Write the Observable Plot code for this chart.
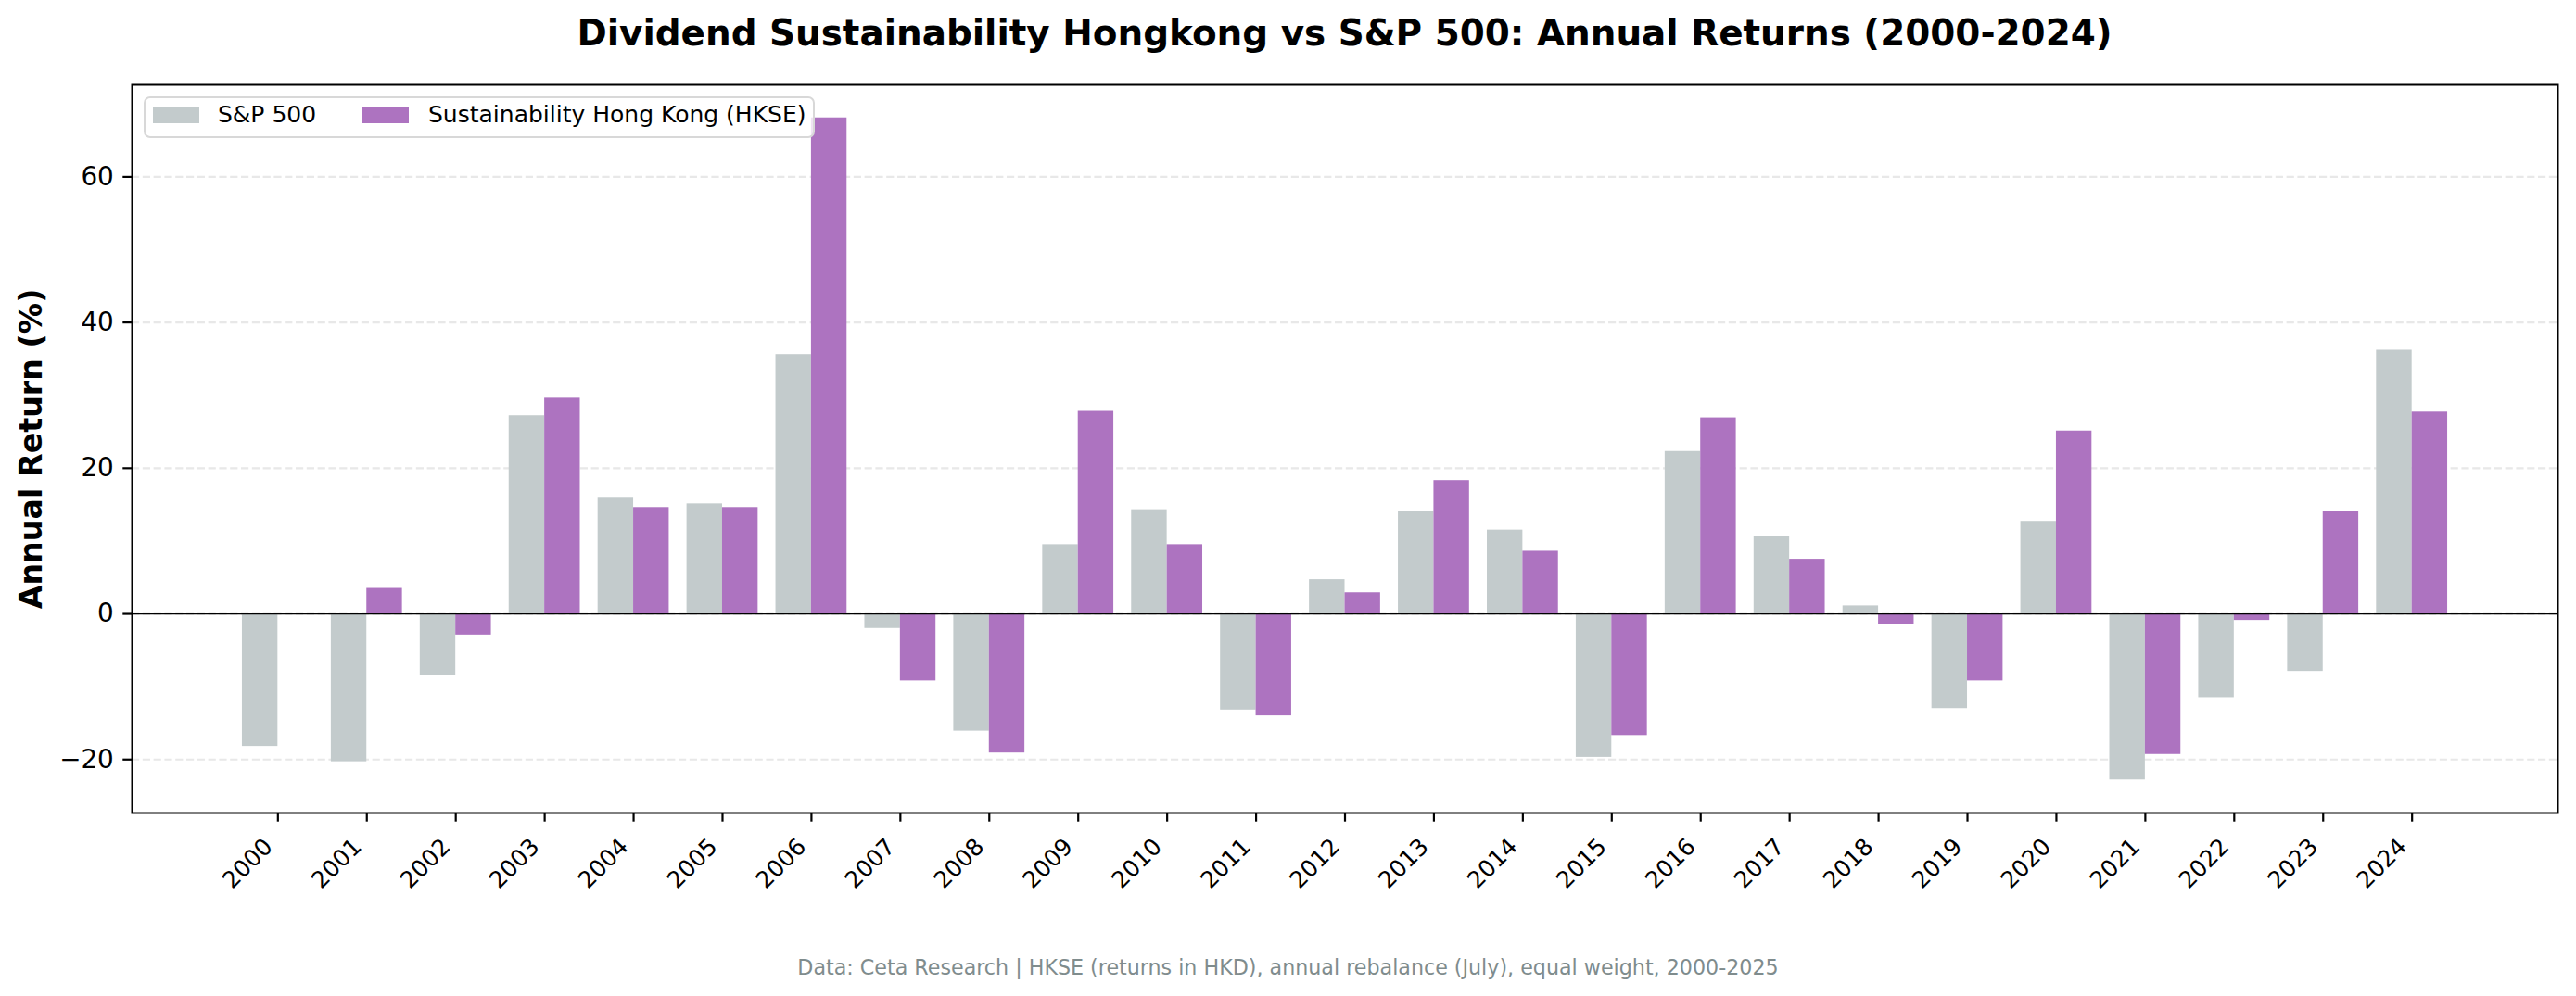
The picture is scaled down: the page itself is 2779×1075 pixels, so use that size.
<!DOCTYPE html>
<html>
<head>
<meta charset="utf-8">
<script src="https://cdn.jsdelivr.net/npm/d3@7"></script>
<script src="https://cdn.jsdelivr.net/npm/@observablehq/plot@0.6"></script>
<style>
  html, body { margin: 0; padding: 0; background: #ffffff; }
  body { font-family: "DejaVu Sans", sans-serif; }
  #wrap { position: relative; width: 2779px; height: 1075px; overflow: hidden; }
  #title { position: absolute; left: 142px; width: 2617px; top: 0; height: 72px; line-height: 72px;
           text-align: center; font-weight: bold; font-size: 38.9px; color: #000; white-space: nowrap; }
  #chart { position: absolute; left: 0; top: 72px; }
  #legend { position: absolute; left: 155px; top: 104px; width: 720px; height: 41px;
            border: 2px solid #d8d8d8; border-radius: 7px; background: rgba(255,255,255,0.8); box-sizing: content-box; }
  .sw { position: absolute; width: 50px; height: 18px; }
  .lt { position: absolute; font-size: 25px; line-height: 30px; color: #000; white-space: nowrap; }
  #caption { position: absolute; left: 0; width: 2779px; top: 1031px; line-height: 26px;
             text-align: center; font-size: 22.2px; color: #7f8c8d; white-space: nowrap; }
</style>
</head>
<body>
<div id="wrap">
  <div id="title"></div>
  <div id="chart"></div>
  <div id="legend"></div>
  <div id="caption"></div>
</div>
<script>
// ---- data ----
const years = [2000, 2001, 2002, 2003, 2004, 2005, 2006, 2007, 2008, 2009, 2010, 2011, 2012,
               2013, 2014, 2015, 2016, 2017, 2018, 2019, 2020, 2021, 2022, 2023, 2024];
const sp500 = [-18.2, -20.3, -8.4, 27.2, 16.0, 15.1, 35.6, -2.0, -16.1, 9.5, 14.3, -13.2, 4.7,
               14.0, 11.5, -19.7, 22.3, 10.6, 1.1, -13.0, 12.7, -22.8, -11.5, -7.9, 36.2];
const hkse  = [null, 3.5, -2.9, 29.6, 14.6, 14.6, 68.1, -9.2, -19.1, 27.8, 9.5, -14.0, 2.9,
               18.3, 8.6, -16.7, 26.9, 7.5, -1.4, -9.2, 25.1, -19.3, -0.9, 14.0, 27.7];
const seriesNames = ["S&P 500", "Sustainability Hong Kong (HKSE)"];
const seriesColors = ["#c3cbcc", "#ad73c0"];
const yTicks = [-20, 0, 20, 40, 60];
const titleText = "Dividend Sustainability Hongkong vs S&P 500: Annual Returns (2000-2024)";
const yLabel = "Annual Return (%)";
const captionText = "Data: Ceta Research | HKSE (returns in HKD), annual rebalance (July), equal weight, 2000-2025";

// ---- tables ----
const barWidth = 0.4;
const spRows = years.map((yr, i) => ({year: yr, v: sp500[i]})).filter(d => d.v != null);
const hkRows = years.map((yr, i) => ({year: yr, v: hkse[i]})).filter(d => d.v != null);

// matplotlib-like 5% margins
const xLo = years[0] - barWidth, xHi = years[years.length - 1] + barWidth;
const xPad = (xHi - xLo) * 0.05;
const allV = sp500.concat(hkse).filter(v => v != null);
const yLo = Math.min(0, d3.min(allV)), yHi = Math.max(0, d3.max(allV));
const yPad = (yHi - yLo) * 0.05;

document.getElementById("title").textContent = titleText;
document.getElementById("caption").textContent = captionText;

const chart = Plot.plot({
  width: 2779,
  height: 930,
  marginTop: 19,
  marginBottom: 125,
  marginLeft: 142,
  marginRight: 20,
  style: { fontFamily: "DejaVu Sans", color: "#000", background: "#fff", overflow: "visible" },
  x: { type: "linear", domain: [xLo - xPad, xHi + xPad] },
  y: { domain: [yLo - yPad, yHi + yPad] },
  marks: [
    Plot.ruleY(yTicks, { stroke: "#e8e8e8", strokeWidth: 2.2, strokeDasharray: "8.2,3.6" }),
    Plot.rect(spRows, { x1: d => d.year - barWidth, x2: d => d.year, y1: 0, y2: "v", fill: seriesColors[0] }),
    Plot.rect(hkRows, { x1: d => d.year, x2: d => d.year + barWidth, y1: 0, y2: "v", fill: seriesColors[1] }),
    Plot.ruleY([0], { stroke: "#000", strokeWidth: 1.3 }),
    Plot.frame({ stroke: "#000", strokeWidth: 2 }),
    Plot.axisY({ ticks: yTicks, tickSize: 9.7, tickPadding: 10, fontSize: 27.8, strokeWidth: 2.2,
                 tickFormat: d3.format("d"), label: null }),
    Plot.axisX({ ticks: years, tickSize: 9.7, strokeWidth: 2.2, tickFormat: () => "", label: null }),
    Plot.axisX({ ticks: years, tickSize: 0, tickPadding: 32, tickRotate: -45, fontSize: 25, dx: -10,
                 tickFormat: d => String(d), label: null }),
    Plot.text([yLabel], { frameAnchor: "left", rotate: -90, dx: -108.5, fontSize: 33.3,
                          fontWeight: "bold", textAnchor: "middle", lineAnchor: "middle" })
  ]
});
document.getElementById("chart").appendChild(chart);

// legend (HTML overlay inside the axes, upper left)
const legend = document.getElementById("legend");
const swX = [8, 234], txX = [78, 305];
seriesNames.forEach((name, i) => {
  const sw = document.createElement("div");
  sw.className = "sw";
  sw.style.left = swX[i] + "px";
  sw.style.top = "9px";
  sw.style.background = seriesColors[i];
  legend.appendChild(sw);
  const t = document.createElement("div");
  t.className = "lt";
  t.style.left = txX[i] + "px";
  t.style.top = "3px";
  t.textContent = name;
  legend.appendChild(t);
});
</script>
</body>
</html>
